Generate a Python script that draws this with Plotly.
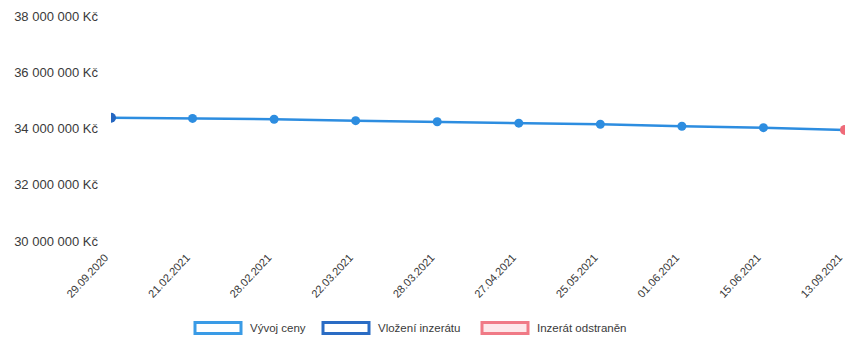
import plotly.graph_objects as go

# Price history of the listing
dates = ["29.09.2020", "21.02.2021", "28.02.2021", "22.03.2021", "28.03.2021",
         "27.04.2021", "25.05.2021", "01.06.2021", "15.06.2021", "13.09.2021"]
prices = [34380000, 34360000, 34330000, 34280000, 34240000,
          34190000, 34150000, 34080000, 34030000, 33950000]

y_ticks = [30000000, 32000000, 34000000, 36000000, 38000000]
y_tick_text = ["30 000 000 Kč", "32 000 000 Kč", "34 000 000 Kč",
               "36 000 000 Kč", "38 000 000 Kč"]

legend_names = ["Vývoj ceny", "Vložení inzerátu", "Inzerát odstraněn"]
legend_border = ["#3a9be6", "#2a6cc4", "#f07a86"]
legend_fill = ["#ffffff", "#ffffff", "#fde8ea"]

W, H = 846, 340
M_L, M_R, M_T, M_B = 111, 1, 16, 99
PW, PH = W - M_L - M_R, H - M_T - M_B

LINE_BLUE = "#2d8de0"
START_BLUE = "#2566c0"
END_RED = "#f06a78"
TEXT = "#3a3a3a"

fig = go.Figure()

fig.add_trace(go.Scatter(
    x=dates, y=prices, mode="lines+markers",
    line=dict(color=LINE_BLUE, width=2.5),
    marker=dict(color=LINE_BLUE, size=9),
    showlegend=False, hoverinfo="skip",
))
# first point: listing inserted
fig.add_trace(go.Scatter(
    x=dates[:1], y=prices[:1], mode="markers",
    marker=dict(color=START_BLUE, size=10),
    showlegend=False, hoverinfo="skip",
))
# last point: listing removed
fig.add_trace(go.Scatter(
    x=dates[-1:], y=prices[-1:], mode="markers",
    marker=dict(color=END_RED, size=10),
    showlegend=False, hoverinfo="skip",
))


def px_x(px):
    return (px - M_L) / PW


def px_y(py):
    return (H - M_B - py) / PH


# custom legend: outlined boxes with labels underneath the chart
box_left = [195, 323, 482]
box_w, box_h, leg_y = 46, 11, 328
shapes, annotations = [], []
for name, bx, bc, fc in zip(legend_names, box_left, legend_border, legend_fill):
    shapes.append(dict(
        type="rect", xref="paper", yref="paper",
        x0=px_x(bx), x1=px_x(bx + box_w),
        y0=px_y(leg_y + box_h / 2), y1=px_y(leg_y - box_h / 2),
        line=dict(color=bc, width=3), fillcolor=fc,
    ))
    annotations.append(dict(
        text=name, xref="paper", yref="paper",
        x=px_x(bx + box_w + 7), y=px_y(leg_y),
        xanchor="left", yanchor="middle", showarrow=False,
        font=dict(size=11.5, color=TEXT),
    ))

fig.update_layout(
    width=W, height=H,
    margin=dict(l=M_L, r=M_R, t=M_T, b=M_B),
    paper_bgcolor="white", plot_bgcolor="white",
    font=dict(family="Liberation Sans, Arial, sans-serif", size=11, color=TEXT),
    shapes=shapes, annotations=annotations,
    showlegend=False,
)
fig.update_xaxes(
    type="category", range=[0, len(dates) - 1], automargin=False,
    showgrid=False, zeroline=False, showline=False,
    tickangle=-47, ticks="", ticklabelstandoff=7, ticklabelshift=-6,
    tickfont=dict(size=11, color=TEXT),
)
fig.update_yaxes(
    range=[30000000, 38000000], tickvals=y_ticks, ticktext=y_tick_text,
    automargin=False,
    showgrid=False, zeroline=False, showline=False,
    ticks="", ticklabelstandoff=12,
    tickfont=dict(size=13, color=TEXT),
)

fig.write_html("out.html")
